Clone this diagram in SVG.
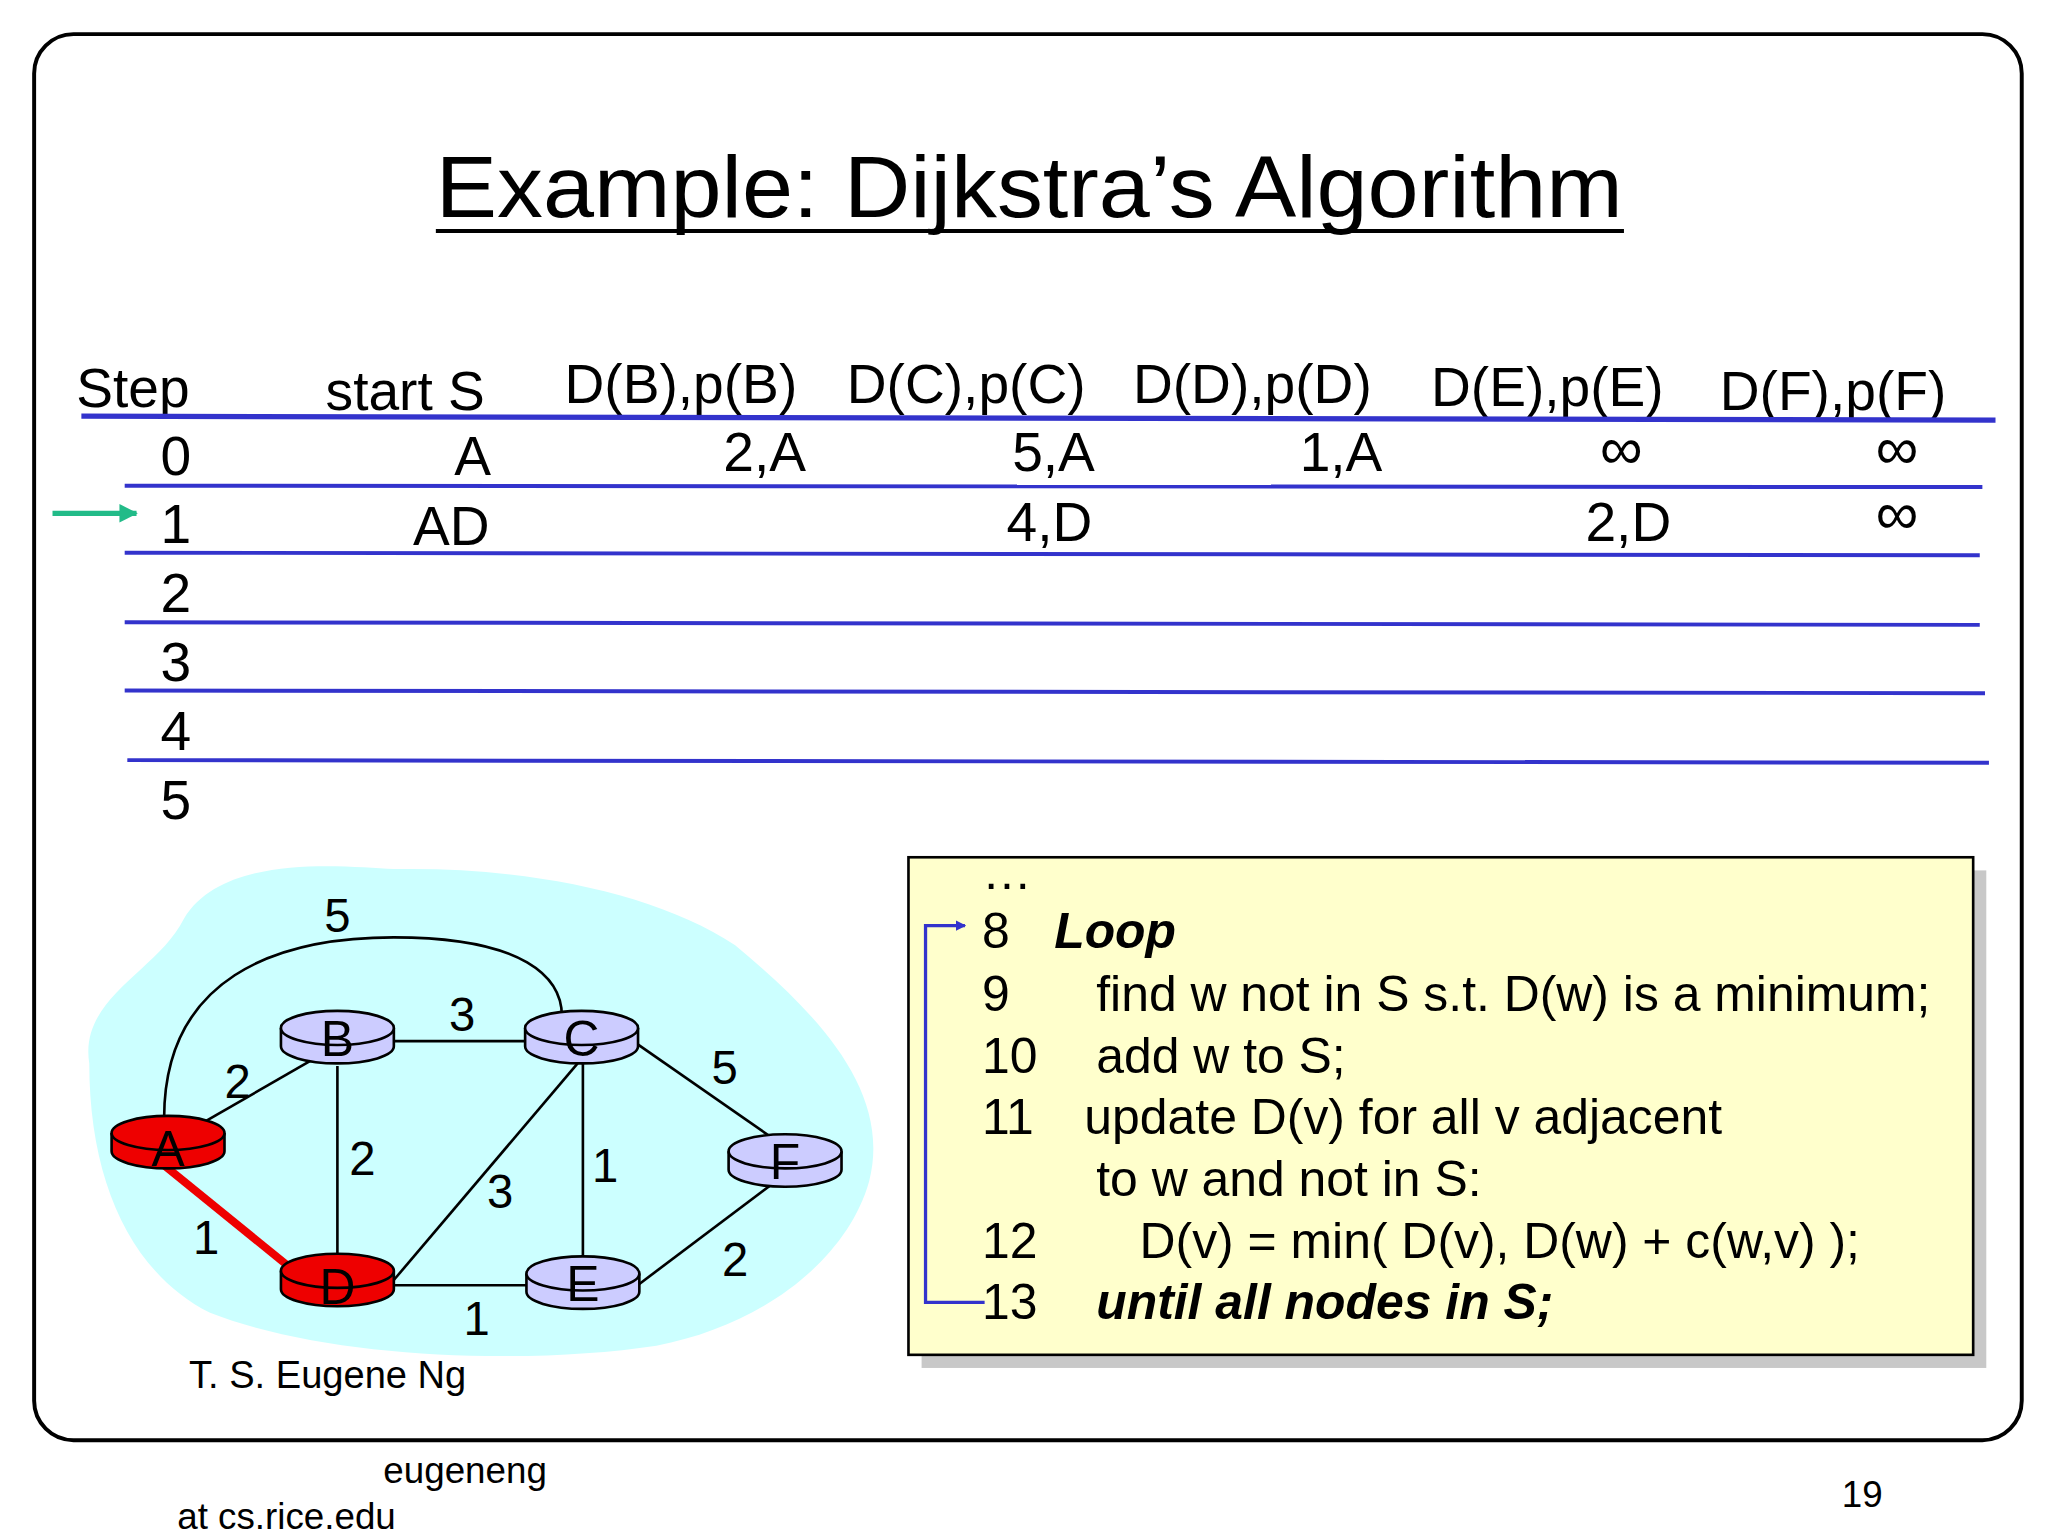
<svg xmlns="http://www.w3.org/2000/svg" width="2048" height="1536" viewBox="0 0 2048 1536">
<defs>
<style>
text{font-family:"Liberation Sans",Arial,sans-serif;fill:#000}
.h{font-size:42px}
.c{font-size:38px}
.w{font-size:36px}
.n{font-size:38px}
.bl{stroke:#3333cc;stroke-width:3;fill:none}
.e{stroke:#000;stroke-width:2;fill:none}
.end{text-anchor:end}
.mid{text-anchor:middle}
.inf{font-size:46px;text-anchor:middle}
</style>
<marker id="ah" markerWidth="8" markerHeight="8" refX="7" refY="4" orient="auto" markerUnits="userSpaceOnUse"><path d="M0,0 L8,4 L0,8 Z" fill="#3333cc"/></marker>
<marker id="ag" markerWidth="14" markerHeight="14" refX="13" refY="7" orient="auto" markerUnits="userSpaceOnUse"><path d="M0,0 L14,7 L0,14 Z" fill="#22bb88"/></marker>
</defs>
<rect width="2048" height="1536" fill="#fff"/>
<g transform="scale(1.31282)">
<rect x="26" y="26" width="1514" height="1071" rx="30" fill="#fff" stroke="#000" stroke-width="3"/>
<g id="title"><text x="784" y="165" class="mid" font-size="66" textLength="904" lengthAdjust="spacingAndGlyphs">Example: Dijkstra’s Algorithm</text>
<line x1="332" y1="176" x2="1237" y2="176" stroke="#000" stroke-width="3"/></g>
<g id="table">
<text class="h" x="58" y="310">Step</text>
<text class="h" x="248" y="312">start S</text>
<text class="h" x="430" y="307">D(B),p(B)</text>
<text class="h" x="645" y="307">D(C),p(C)</text>
<text class="h" x="863" y="307">D(D),p(D)</text>
<text class="h" x="1090" y="309">D(E),p(E)</text>
<text class="h" x="1310" y="312">D(F),p(F)</text>
<line x1="62" y1="317" x2="1520" y2="320" stroke="#3333cc" stroke-width="4"/>
<line class="bl" x1="95" y1="370" x2="1510" y2="371"/>
<line class="bl" x1="95" y1="421" x2="1508" y2="423"/>
<line class="bl" x1="95" y1="474" x2="1508" y2="476"/>
<line class="bl" x1="95" y1="526" x2="1512" y2="528"/>
<line class="bl" x1="97" y1="579" x2="1515" y2="581"/>
<text class="h mid" x="134" y="362">0</text>
<text class="h mid" x="134" y="414">1</text>
<text class="h mid" x="134" y="466">2</text>
<text class="h mid" x="134" y="519">3</text>
<text class="h mid" x="134" y="571">4</text>
<text class="h mid" x="134" y="624">5</text>
<text class="h end" x="374" y="362">A</text>
<text class="h end" x="614" y="359">2,A</text>
<text class="h end" x="834" y="359">5,A</text>
<text class="h end" x="1053" y="359">1,A</text>
<text class="inf" x="1235" y="357">∞</text>
<text class="inf" x="1445" y="357">∞</text>
<text class="h end" x="373" y="415">AD</text>
<text class="h end" x="832" y="412">4,D</text>
<text class="h end" x="1273" y="412">2,D</text>
<text class="inf" x="1445" y="407">∞</text>
<line x1="40" y1="391" x2="104" y2="391" stroke="#22bb88" stroke-width="4" marker-end="url(#ag)"/>
</g>
<path id="cloud" d="M68,810 C60,760 120,740 140,700 C170,650 260,660 300,662 C400,660 500,680 560,720 C620,770 680,830 662,900 C645,960 580,1010 500,1025 C400,1040 250,1035 160,1000 C100,970 68,900 68,810 Z" fill="#ccffff"/>
<g id="connectors">
<path class="e" d="M125,852 C125,745 210,714 300,714 C400,714 428,745 428,774"/>
<line class="e" x1="155" y1="855" x2="240" y2="806"/>
<line class="e" x1="300" y1="793" x2="400" y2="793"/>
<line class="e" x1="257" y1="812" x2="257" y2="962"/>
<line class="e" x1="440" y1="810" x2="300" y2="975"/>
<line class="e" x1="444" y1="810" x2="444" y2="962"/>
<line class="e" x1="485" y1="795" x2="590" y2="868"/>
<line class="e" x1="300" y1="979" x2="402" y2="979"/>
<line class="e" x1="487" y1="978" x2="588" y2="902"/>
<line x1="123" y1="886" x2="224" y2="968" stroke="#ee0000" stroke-width="6"/>
</g>
<g id="weights">
<text class="w mid" x="257" y="710">5</text>
<text class="w mid" x="352" y="785">3</text>
<text class="w mid" x="181" y="836">2</text>
<text class="w mid" x="276" y="895">2</text>
<text class="w mid" x="552" y="826">5</text>
<text class="w mid" x="381" y="920">3</text>
<text class="w mid" x="461" y="900">1</text>
<text class="w mid" x="157" y="955">1</text>
<text class="w mid" x="363" y="1017">1</text>
<text class="w mid" x="560" y="972">2</text>
</g>
<g id="node-B" transform="translate(257,790)"><path d="M-43,-7 V7 A43,13 0 0 0 43,7 V-7" fill="#ccccff" stroke="#000" stroke-width="2"/><ellipse cx="0" cy="-7" rx="43" ry="13" fill="#ccccff" stroke="#000" stroke-width="2"/><text class="n mid" x="0" y="14">B</text></g>
<g id="node-C" transform="translate(443,790)"><path d="M-43,-7 V7 A43,13 0 0 0 43,7 V-7" fill="#ccccff" stroke="#000" stroke-width="2"/><ellipse cx="0" cy="-7" rx="43" ry="13" fill="#ccccff" stroke="#000" stroke-width="2"/><text class="n mid" x="0" y="14">C</text></g>
<g id="node-F" transform="translate(598,884)"><path d="M-43,-7 V7 A43,13 0 0 0 43,7 V-7" fill="#ccccff" stroke="#000" stroke-width="2"/><ellipse cx="0" cy="-7" rx="43" ry="13" fill="#ccccff" stroke="#000" stroke-width="2"/><text class="n mid" x="0" y="14">F</text></g>
<g id="node-E" transform="translate(444,977)"><path d="M-43,-7 V7 A43,13 0 0 0 43,7 V-7" fill="#ccccff" stroke="#000" stroke-width="2"/><ellipse cx="0" cy="-7" rx="43" ry="13" fill="#ccccff" stroke="#000" stroke-width="2"/><text class="n mid" x="0" y="14">E</text></g>
<g id="node-A" transform="translate(128,870)"><path d="M-43,-7 V7 A43,13 0 0 0 43,7 V-7" fill="#ee0000" stroke="#000" stroke-width="2"/><ellipse cx="0" cy="-7" rx="43" ry="13" fill="#ee0000" stroke="#000" stroke-width="2"/><text class="n mid" x="0" y="18">A</text></g>
<g id="node-D" transform="translate(257,975)"><path d="M-43,-7 V7 A43,13 0 0 0 43,7 V-7" fill="#ee0000" stroke="#000" stroke-width="2"/><ellipse cx="0" cy="-7" rx="43" ry="13" fill="#ee0000" stroke="#000" stroke-width="2"/><text class="n mid" x="0" y="18">D</text></g>
<text x="144" y="1057" font-size="29">T. S. Eugene Ng</text>
<g id="code">
<rect x="702" y="663" width="811" height="379" fill="#c8c8c8"/>
<rect x="692" y="653" width="811" height="379" fill="#ffffcc" stroke="#000" stroke-width="2"/>
<text class="c" x="748" y="677">…</text>
<text class="c" x="748" y="722">8</text><text class="c" x="803" y="722" font-weight="bold" font-style="italic">Loop</text>
<text class="c" x="748" y="770">9</text><text class="c" x="835" y="770">find w not in S s.t. D(w) is a minimum;</text>
<text class="c" x="748" y="817">10</text><text class="c" x="835" y="817">add w to S;</text>
<text class="c" x="748" y="864">11</text><text class="c" x="826" y="864">update D(v) for all v adjacent</text>
<text class="c" x="835" y="911">to w and not in S:</text>
<text class="c" x="748" y="958">12</text><text class="c" x="868" y="958">D(v) = min( D(v), D(w) + c(w,v) );</text>
<text class="c" x="748" y="1005">13</text><text class="c" x="835" y="1005" font-weight="bold" font-style="italic">until all nodes in S;</text>
<path d="M750,992 H705 V705 H735" fill="none" stroke="#3333cc" stroke-width="2.5" marker-end="url(#ah)"/>
</g>
<text x="292" y="1130" font-size="28">eugeneng</text>
<text x="135" y="1165" font-size="28">at cs.rice.edu</text>
<text x="1403" y="1148" font-size="28">19</text>
</g>
</svg>
